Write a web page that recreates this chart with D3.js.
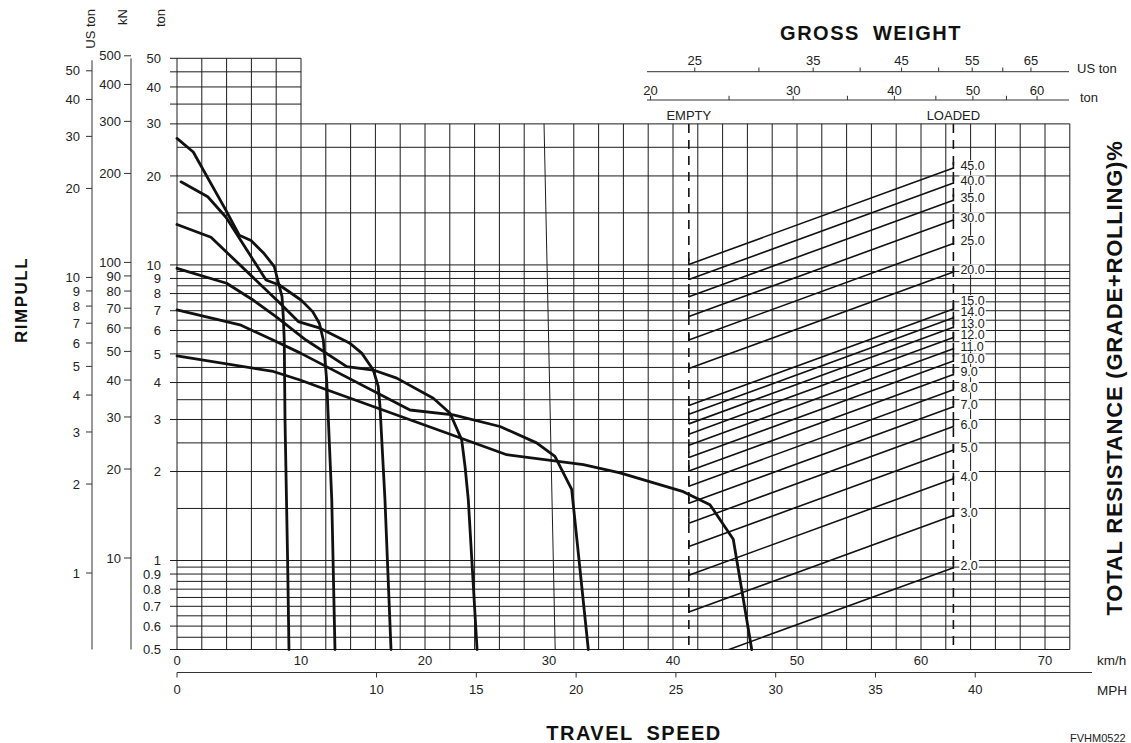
<!DOCTYPE html>
<html><head><meta charset="utf-8">
<script src="https://cdn.jsdelivr.net/npm/d3@7"></script>
<style>
body{margin:0;background:#fff;}
svg{display:block;font-family:"Liberation Sans",Arial,Helvetica,sans-serif;}
</style></head><body>
<svg id="chart" width="1131" height="743"></svg>
<script>
// ---------------- DATA ----------------
const speedTicksKmh = [0,10,20,30,40,50,60,70];
const speedTicksMph = [0,10,15,20,25,30,35,40];
const gridSpeedsKmh = [0,2,4,6,8,10,12,14,16,18,20,22,24,26,28,30,32,34,36,38,40,42,44,46,48,50,52,54,56,58,60,62,64,66,68,70,72];
const blockSpeedsKmh = [0,2,4,6,8,10];
const skewedGridKmh = [30, 29.6, 30.5]; // the 30 km/h grid line is drawn slanted: [value, top, bottom]
const tonTicks = [50,40,30,20,10,9,8,7,6,5,4,3,2,1,0.9,0.8,0.7,0.6,0.5];
const kNTicks = [500,400,300,200,100,90,80,70,60,50,40,30,20,10];
const usTonTicks = [50,40,30,20,10,9,8,7,6,5,4,3,2,1];
const gridTons = [0.5,0.55,0.6,0.65,0.7,0.75,0.8,0.85,0.9,0.95,1,1.5,2,2.5,3,3.5,4,4.5,5,5.5,6,6.5,7,7.5,8,8.5,9,9.5,10,15,20,25,30];
const blockTons = [35,40,45,50];
const grossTonTicks = [20,25,30,35,40,45,50,55,60];
const grossTonLabels = [20,30,40,50,60];
const grossUsTonTicks = [25,30,35,40,45,50,55,60,65];
const grossUsTonLabels = [25,35,45,55,65];
const resistances = [2,3,4,5,6,7,8,9,10,11,12,13,14,15,20,25,30,35,40,45];
const emptyWeightTon = 22.3;
const loadedWeightTon = 47.3;
// rimpull curves: [speed km/h, rimpull ton]
const gear1 = [[0,26.8],[1.31,24.1],[3.95,15.3],[5.02,12.6],[5.97,12.1],[7.04,10.9],[7.85,9.86],[8.12,8.89],[8.47,7.81],[8.57,6.68],[8.65,5.57],[8.71,3.0],[8.92,1.0],[9.03,0.5]];
const gear2 = [[0.32,19.1],[2.48,17.0],[3.95,14.5],[7.18,8.89],[8.25,8.55],[10.0,7.61],[10.94,6.95],[11.48,6.35],[11.8,5.57],[12.07,4.08],[12.48,1.61],[12.74,0.5]];
const gear3 = [[0,13.7],[2.74,12.4],[8.31,7.42],[9.78,6.43],[11.53,6.11],[13.95,5.43],[14.9,5.03],[15.83,4.41],[16.23,3.88],[16.37,3.32],[16.77,1.61],[17.26,0.5]];
const gear4 = [[0,9.74],[4.0,8.67],[6.13,7.61],[7.98,6.68],[10.4,5.57],[13.69,4.53],[15.83,4.41],[17.72,4.14],[20.67,3.54],[22.02,3.15],[22.96,2.56],[23.23,2.08],[23.49,1.61],[24.2,0.5]];
const gear5 = [[0,7.04],[5.08,6.27],[7.74,5.57],[9.92,5.04],[18.79,3.23],[22.28,3.11],[26.05,2.84],[29.0,2.50],[30.48,2.25],[31.83,1.74],[33.17,0.5]];
const gear6 = [[0,4.92],[7.77,4.36],[9.92,4.08],[12.07,3.78],[21.75,2.70],[26.59,2.28],[32.77,2.11],[35.73,1.98],[40.83,1.71],[42.98,1.545],[44.86,1.18],[46.35,0.5]];
const gears = [gear1,gear2,gear3,gear4,gear5,gear6];

const KMH_PER_MPH = 1.609344;
const TON_PER_USTON = 0.90718;
const KN_PER_TON = 9.80665;

// ---------------- SCALES ----------------
const x = d3.scaleLinear().domain([0,72]).range([177,1069.8]);
const y = d3.scaleLog().domain([0.5,50]).range([649.5,58.3]);
const xw = d3.scaleLog().domain([19.8,65.7]).range([647,1069]);

const svg = d3.select("#chart");
svg.append("rect").attr("width",1131).attr("height",743).attr("fill","#fff");

const ink = "#111";
// ---------------- GRID ----------------
const grid = svg.append("g").attr("stroke","#1c1c1c").attr("stroke-width",1);
gridTons.forEach(t=>{
  const labeled = tonTicks.includes(t);
  grid.append("line").attr("x1", labeled?170:177).attr("x2", x(72))
    .attr("y1", y(t)).attr("y2", y(t));
});
blockTons.forEach(t=>{
  grid.append("line").attr("x1",170).attr("x2",x(10)).attr("y1",y(t)).attr("y2",y(t));
});
gridSpeedsKmh.forEach(s=>{
  const topY = blockSpeedsKmh.includes(s) ? y(50) : y(30);
  if (s === skewedGridKmh[0]) {
    grid.append("line").attr("x1",x(skewedGridKmh[1])).attr("x2",x(skewedGridKmh[2]))
      .attr("y1",topY).attr("y2",y(0.5));
  } else {
    grid.append("line").attr("x1",x(s)).attr("x2",x(s)).attr("y1",topY).attr("y2",y(0.5));
  }
});

// ---------------- LEFT AXES ----------------
const fs = 13;
const leftG = svg.append("g").attr("font-size",fs).attr("fill","#222");
tonTicks.forEach(t=>{
  leftG.append("text").attr("x",161).attr("y",y(t)+4.6).attr("text-anchor","end").text(t);
});
leftG.append("line").attr("x1",131).attr("x2",131).attr("y1",y(50)).attr("y2",y(0.5)).attr("stroke","#333");
kNTicks.forEach(k=>{
  const yy = y(k/KN_PER_TON);
  leftG.append("line").attr("x1",124).attr("x2",131).attr("y1",yy).attr("y2",yy).attr("stroke","#333");
  leftG.append("text").attr("x",121).attr("y",yy+4.6).attr("text-anchor","end").text(k);
});
leftG.append("line").attr("x1",92).attr("x2",92).attr("y1",y(50)+2).attr("y2",y(0.5)).attr("stroke","#333");
usTonTicks.forEach(u=>{
  const yy = y(u*TON_PER_USTON);
  leftG.append("line").attr("x1",86).attr("x2",92).attr("y1",yy).attr("y2",yy).attr("stroke","#333");
  leftG.append("text").attr("x",80).attr("y",yy+4.6).attr("text-anchor","end").text(u);
});
[["US ton",95],["kN",127],["ton",165]].forEach(([t,xx])=>{
  leftG.append("text").attr("transform",`translate(${xx},9) rotate(-90)`).attr("text-anchor","end").text(t);
});
svg.append("text").attr("transform","translate(27,300) rotate(-90)").attr("text-anchor","middle")
  .attr("font-size",17).attr("font-weight","bold").attr("letter-spacing",1.5).attr("fill","#111").text("RIMPULL");

// ---------------- BOTTOM AXES ----------------
const bottomG = svg.append("g").attr("font-size",fs).attr("fill","#222");
speedTicksKmh.forEach(s=>{
  bottomG.append("text").attr("x",x(s)).attr("y",665).attr("text-anchor","middle").text(s);
});
bottomG.append("text").attr("x",1097).attr("y",665).attr("font-size",13.5).text("km/h");
bottomG.append("line").attr("x1",x(0)).attr("x2",1092).attr("y1",672.5).attr("y2",672.5).attr("stroke","#333");
speedTicksMph.forEach(m=>{
  const xx = x(m*KMH_PER_MPH);
  bottomG.append("line").attr("x1",xx).attr("x2",xx).attr("y1",672.5).attr("y2",677.5).attr("stroke","#333");
  bottomG.append("text").attr("x",xx).attr("y",694).attr("text-anchor","middle").text(m);
});
bottomG.append("text").attr("x",1097).attr("y",695).attr("font-size",13.5).text("MPH");
svg.append("text").attr("x",634).attr("y",740).attr("text-anchor","middle").attr("font-size",20)
  .attr("font-weight","bold").attr("letter-spacing",1.5).attr("word-spacing",6).attr("fill","#111").text("TRAVEL SPEED");
svg.append("text").attr("x",1070).attr("y",742).attr("font-size",11).attr("fill","#222").text("FVHM0522");

// ---------------- GROSS WEIGHT AXES ----------------
const topG = svg.append("g").attr("font-size",fs).attr("fill","#222");
topG.append("text").attr("x",871).attr("y",40).attr("text-anchor","middle").attr("font-size",20)
  .attr("font-weight","bold").attr("letter-spacing",1.5).attr("word-spacing",6).attr("fill","#111").text("GROSS WEIGHT");
topG.append("line").attr("x1",xw.range()[0]).attr("x2",xw.range()[1]).attr("y1",71.7).attr("y2",71.7).attr("stroke","#333");
grossUsTonTicks.forEach(u=>{
  const xx = xw(u*TON_PER_USTON);
  topG.append("line").attr("x1",xx).attr("x2",xx).attr("y1",67.5).attr("y2",71.7).attr("stroke","#333");
  if (grossUsTonLabels.includes(u)) topG.append("text").attr("x",xx).attr("y",64.5).attr("text-anchor","middle").text(u);
});
topG.append("text").attr("x",1077).attr("y",73).text("US ton");
topG.append("line").attr("x1",xw.range()[0]).attr("x2",xw.range()[1]).attr("y1",100).attr("y2",100).attr("stroke","#333");
grossTonTicks.forEach(t=>{
  const xx = xw(t);
  topG.append("line").attr("x1",xx).attr("x2",xx).attr("y1",95.8).attr("y2",100).attr("stroke","#333");
  if (grossTonLabels.includes(t)) topG.append("text").attr("x",xx).attr("y",94.5).attr("text-anchor","middle").text(t);
});
topG.append("text").attr("x",1080).attr("y",101.5).text("ton");
topG.append("text").attr("x",xw(emptyWeightTon)).attr("y",119.5).attr("text-anchor","middle").text("EMPTY");
topG.append("text").attr("x",xw(loadedWeightTon)).attr("y",119.5).attr("text-anchor","middle").text("LOADED");

[emptyWeightTon, loadedWeightTon].forEach(w=>{
  svg.append("line").attr("x1",xw(w)).attr("x2",xw(w)).attr("y1",y(30)).attr("y2",y(0.5))
    .attr("stroke",ink).attr("stroke-width",1.6).attr("stroke-dasharray","9,7");
});

// ---------------- RESISTANCE LINES ----------------
svg.append("clipPath").attr("id","plotClip").append("rect")
  .attr("x",x(0)).attr("y",y(30)).attr("width",x(72)-x(0)).attr("height",y(0.5)-y(30));
const res = svg.append("g").attr("clip-path","url(#plotClip)").attr("stroke",ink).attr("stroke-width",1.6);
resistances.forEach(r=>{
  const x1 = xw(emptyWeightTon), x2 = xw(loadedWeightTon);
  const y1 = y(emptyWeightTon*r/100), y2 = y(loadedWeightTon*r/100);
  res.append("line").attr("x1",x1).attr("y1",y1).attr("x2",x2).attr("y2",y2);
  res.append("line").attr("x1",x1).attr("x2",x1).attr("y1",y1-6).attr("y2",y1+0.5);
  res.append("line").attr("x1",x2).attr("x2",x2).attr("y1",y2-6).attr("y2",y2+1);
});
// labels: place near line end, spread apart (bottom-up) so they never collide
const labelPos = resistances.map(r=>({r, yy: y(loadedWeightTon*r/100) - 2.5}));
const minGap = 11.5;
for (let i = 1; i < labelPos.length; i++) {
  if (labelPos[i].yy > labelPos[i-1].yy - minGap) labelPos[i].yy = labelPos[i-1].yy - minGap;
}
const labs = svg.append("g").attr("font-size",12.5).attr("fill","#222");
labelPos.forEach(({r,yy})=>{
  const g = labs.append("g");
  const t = g.append("text").attr("x",xw(loadedWeightTon)+7).attr("y",yy+4.4).text(r.toFixed(1));
  const bb = t.node().getBBox();
  g.insert("rect","text").attr("x",bb.x-1).attr("y",yy-5.2).attr("width",bb.width+2).attr("height",10.4).attr("fill","#fff");
});

// ---------------- RIMPULL CURVES ----------------
const line = d3.line().x(d=>x(d[0])).y(d=>y(d[1]));
gears.forEach(g=>{
  svg.append("path").attr("d",line(g)).attr("fill","none").attr("stroke",ink)
    .attr("stroke-width",2.8).attr("stroke-linejoin","round").attr("stroke-linecap","round");
});

svg.append("text").attr("transform","translate(1122,378) rotate(-90)").attr("text-anchor","middle")
  .attr("font-size",22).attr("font-weight","bold").attr("letter-spacing",0.8).attr("fill","#111").text("TOTAL RESISTANCE (GRADE+ROLLING)%");
</script>
</body></html>
